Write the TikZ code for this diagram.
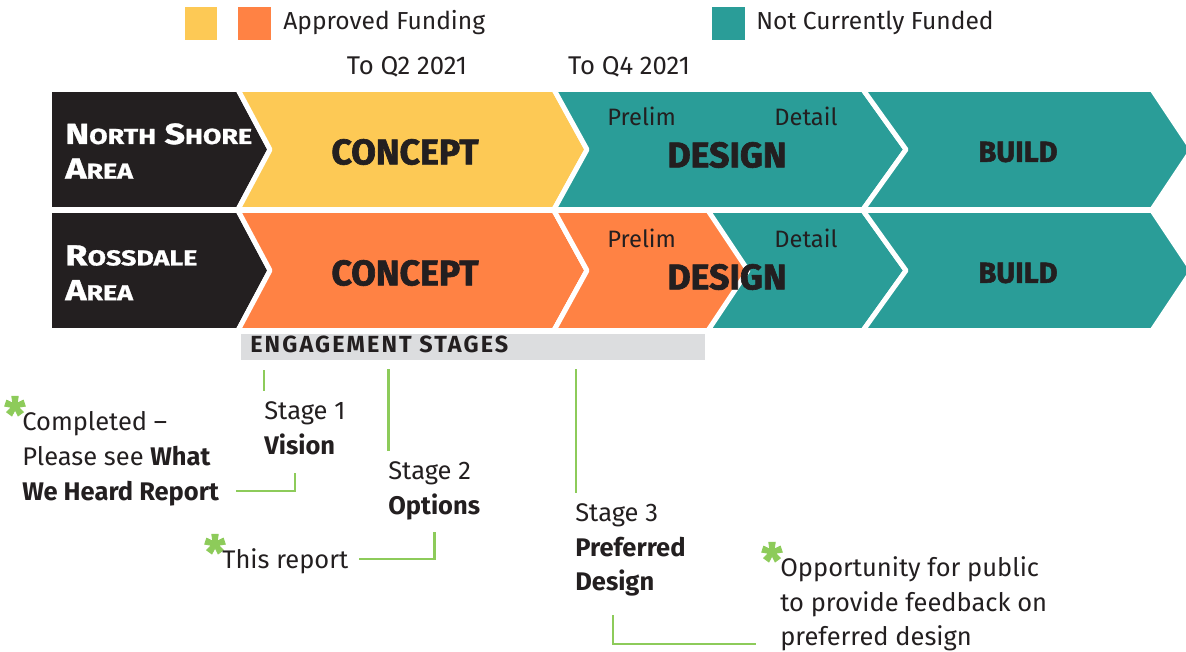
\documentclass[tikz,border=0pt]{standalone}
\usepackage{fontspec}
\setmainfont{Fira Sans}
\newfontfamily\pesada[FakeBold=1.8]{Fira Sans}
\newfontfamily\ancha[FakeStretch=1.24,FakeBold=1.2]{Fira Sans}
\newfontfamily\espaciada[LetterSpace=9]{Fira Sans}

\definecolor{amarillo}{HTML}{FDC955}
\definecolor{naranja}{HTML}{FF8244}
\definecolor{verdeazul}{HTML}{2A9D98}
\definecolor{negro}{HTML}{231F20}
\definecolor{gris}{HTML}{DCDDDF}
\definecolor{verde}{HTML}{8DCB5A}

\newcommand{\versal}[2]{{\fontsize{16.5}{19.8}\selectfont#1}{\fontsize{12.3}{19.8}\selectfont#2}}

\begin{document}
\begin{tikzpicture}[x=0.02cm,y=-0.02cm]
\tikzstyle{flecha}=[draw=white,line width=2.8pt,line join=round]
\tikzstyle{texto leyenda}=[font=\fontsize{14}{17}\selectfont,text=negro,inner sep=0,anchor=base west]
\tikzstyle{texto fecha}=[font=\fontsize{14.6}{16}\selectfont,text=negro,inner sep=0,anchor=base]
\tikzstyle{titulo fase}=[font=\pesada\bfseries\fontsize{20.3}{22}\selectfont,text=negro,inner sep=0]
\tikzstyle{titulo chico}=[font=\pesada\bfseries\fontsize{16.5}{20}\selectfont,text=negro,inner sep=0]
\tikzstyle{subfase}=[font=\fontsize{13.5}{16}\selectfont,text=negro,inner sep=0,anchor=base west]
\tikzstyle{zona}=[font=\ancha\bfseries\fontsize{16.5}{19.8}\selectfont,text=white,inner sep=0,anchor=north west,align=left]
\tikzstyle{texto etapa}=[font=\fontsize{14.5}{19.8}\selectfont,text=negro,inner sep=0,anchor=north west,align=left]
\tikzstyle{asterisco}=[font=\pesada\bfseries\fontsize{27}{27}\selectfont,text=verde,inner sep=0,anchor=north west]
\tikzstyle{linea verde}=[draw=verde,line width=1.2pt]

\useasboundingbox (0,0) rectangle (1186,652);

% leyenda
\fill[amarillo] (185,7) rectangle (217,40);
\fill[naranja] (238,7) rectangle (271,40);
\node[texto leyenda] (aprobado) at (283,30) {Approved Funding};
\fill[verdeazul] (712,7) rectangle (745,40);
\node[texto leyenda] (sinfondos) at (756,30) {Not Currently Funded};

\node[texto fecha] (q2) at (407,75) {To Q2 2021};
\node[texto fecha] (q4) at (629,75) {To Q4 2021};

% fila North Shore
\draw[flecha,fill=negro] (49.5,89.5) -- (238,89.5) -- (270,149.5) -- (238,209.5) -- (49.5,209.5) -- cycle;
\draw[flecha,fill=amarillo] (238,89.5) -- (554,89.5) -- (587,149.5) -- (554,209.5) -- (238,209.5) -- (270,149.5) -- cycle;
\draw[flecha,fill=verdeazul] (554,89.5) -- (863,89.5) -- (906,149.5) -- (863,209.5) -- (554,209.5) -- (587,149.5) -- cycle;
\draw[flecha,fill=verdeazul] (863,89.5) -- (1152,89.5) -- (1192,149.5) -- (1152,209.5) -- (863,209.5) -- (906,149.5) -- cycle;

% fila Rossdale
\draw[flecha,fill=negro] (49.5,210.5) -- (238,210.5) -- (270,270.5) -- (238,330.5) -- (49.5,330.5) -- cycle;
\draw[flecha,fill=naranja] (238,210.5) -- (554,210.5) -- (587,270.5) -- (554,330.5) -- (238,330.5) -- (270,270.5) -- cycle;
\draw[flecha,fill=verdeazul] (554,210.5) -- (863,210.5) -- (906,270.5) -- (863,330.5) -- (554,330.5) -- (587,270.5) -- cycle;
\draw[flecha,fill=naranja] (554,210.5) -- (708,210.5) -- (748,270.5) -- (708,330.5) -- (554,330.5) -- (587,270.5) -- cycle;
\draw[flecha,fill=verdeazul] (863,210.5) -- (1152,210.5) -- (1192,270.5) -- (1152,330.5) -- (863,330.5) -- (906,270.5) -- cycle;

\node[zona] (norte) at (65,123) {\versal{N}{ORTH} \versal{S}{HORE}\\\versal{A}{REA}};
\node[zona] (rossdale) at (65,245) {\versal{R}{OSSDALE}\\\versal{A}{REA}};

\node[titulo fase] (concepto1) at (405,152) {CONCEPT};
\node[titulo fase] (concepto2) at (405,273) {CONCEPT};
\node[subfase] (prelim1) at (607,126) {Prelim};
\node[subfase] (detalle1) at (774,126) {Detail};
\node[subfase] (prelim2) at (607,247) {Prelim};
\node[subfase] (detalle2) at (774,247) {Detail};
\node[titulo fase] (diseno1) at (727,155) {DESIGN};
\node[titulo fase] (diseno2) at (727,277) {DESIGN};
\node[titulo chico] (obra1) at (1018,152) {BUILD};
\node[titulo chico] (obra2) at (1018,273) {BUILD};

% etapas
\fill[gris] (241,334) rectangle (705,360);
\node[font=\espaciada\bfseries\fontsize{13.3}{14}\selectfont,text=negro,inner sep=0,anchor=base west] (etapas) at (250,352) {ENGAGEMENT STAGES};

\node[texto etapa] (etapa1) at (264,401) {Stage 1\\\textbf{Vision}};
\node[texto etapa] (etapa2) at (388,461) {Stage 2\\\textbf{Options}};
\node[texto etapa] (etapa3) at (575,503) {Stage 3\\\textbf{Preferred}\\\textbf{Design}};

\coordinate (t1) at (264,370);
\coordinate (t2) at (388.5,369);
\coordinate (t3) at (576,369);
\draw[linea verde,shorten >=5.5pt] (t1) -- (t1 |- etapa1.north);
\draw[linea verde,shorten >=5.5pt] (t2) -- (t2 |- etapa2.north);
\draw[linea verde,shorten >=5.5pt] (t3) -- (t3 |- etapa3.north);

% notas
\node[asterisco] (ast1) at (4,396) {*};
\node[texto etapa] (nota1) at (22,411) {Completed --\\Please see \textbf{What}\\\textbf{We Heard Report}};
\node[asterisco] (ast2) at (204,534) {*};
\node[texto etapa] (nota2) at (222,548) {This report};
\node[asterisco] (ast3) at (761,542) {*};
\node[texto etapa] (nota3) at (780,556) {Opportunity for public\\to provide feedback on\\preferred design};

\coordinate (n1a) at (295,473);
\coordinate (n1b) at (236,491);
\coordinate (n2a) at (434.5,532);
\coordinate (n2b) at (358.5,559);
\coordinate (n3a) at (613,615);
\coordinate (n3b) at (755.5,644);
\draw[linea verde] (n1a) |- (n1b);
\draw[linea verde] (n2a) |- (n2b);
\draw[linea verde] (n3a) |- (n3b);
\end{tikzpicture}
\end{document}
